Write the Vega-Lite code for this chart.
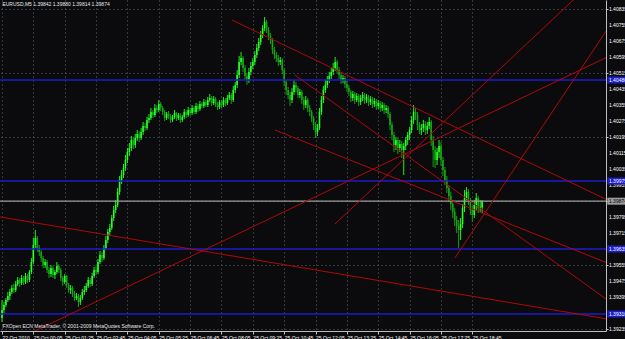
{
"$schema":"https://vega.github.io/schema/vega-lite/v6.json",
"width":606,"height":331,
"padding":{"left":0,"top":0,"right":19,"bottom":8},
"autosize":{"type":"none"},
"background":"#0b0b0d",
"config":{"view":{"stroke":null},"font":"Liberation Sans","axis":{"labelOverlap":false,"labelFontSize":5,"labelBound":false,"labelFlush":false}},
"datasets":{
"bars":[
{"i":0,"o":1.3929,"h":1.3938,"l":1.3927,"c":1.3933},
{"i":1,"o":1.3933,"h":1.3937,"l":1.39315,"c":1.39355},
{"i":2,"o":1.39355,"h":1.3939,"l":1.39345,"c":1.3938},
{"i":3,"o":1.3938,"h":1.3942,"l":1.3937,"c":1.394},
{"i":4,"o":1.394,"h":1.39435,"l":1.3938,"c":1.3942},
{"i":5,"o":1.3942,"h":1.39455,"l":1.3941,"c":1.3944},
{"i":6,"o":1.3944,"h":1.3946,"l":1.39415,"c":1.3943},
{"i":7,"o":1.3943,"h":1.39475,"l":1.3942,"c":1.3946},
{"i":8,"o":1.3946,"h":1.39495,"l":1.3945,"c":1.3948},
{"i":9,"o":1.3948,"h":1.3949,"l":1.39445,"c":1.39465},
{"i":10,"o":1.39465,"h":1.39505,"l":1.39455,"c":1.3949},
{"i":11,"o":1.3949,"h":1.395,"l":1.39455,"c":1.3947},
{"i":12,"o":1.3947,"h":1.39515,"l":1.3946,"c":1.395},
{"i":13,"o":1.395,"h":1.3951,"l":1.39465,"c":1.3948},
{"i":14,"o":1.3948,"h":1.3953,"l":1.3947,"c":1.3952},
{"i":15,"o":1.3952,"h":1.3959,"l":1.3951,"c":1.3957},
{"i":16,"o":1.3957,"h":1.3969,"l":1.3956,"c":1.39655},
{"i":17,"o":1.39655,"h":1.3973,"l":1.3964,"c":1.3969},
{"i":18,"o":1.3969,"h":1.397,"l":1.3962,"c":1.3964},
{"i":19,"o":1.3964,"h":1.39655,"l":1.396,"c":1.3962},
{"i":20,"o":1.3962,"h":1.3963,"l":1.3957,"c":1.3959},
{"i":21,"o":1.3959,"h":1.396,"l":1.3954,"c":1.39555},
{"i":22,"o":1.39555,"h":1.39585,"l":1.3954,"c":1.3957},
{"i":23,"o":1.3957,"h":1.3958,"l":1.39515,"c":1.3953},
{"i":24,"o":1.3953,"h":1.39545,"l":1.3949,"c":1.3951},
{"i":25,"o":1.3951,"h":1.39555,"l":1.39495,"c":1.3954},
{"i":26,"o":1.3954,"h":1.3955,"l":1.3949,"c":1.39505},
{"i":27,"o":1.39505,"h":1.3953,"l":1.39485,"c":1.3952},
{"i":28,"o":1.3952,"h":1.3957,"l":1.3951,"c":1.3955},
{"i":29,"o":1.3955,"h":1.3956,"l":1.39515,"c":1.3953},
{"i":30,"o":1.3953,"h":1.3954,"l":1.39475,"c":1.3949},
{"i":31,"o":1.3949,"h":1.395,"l":1.3945,"c":1.3947},
{"i":32,"o":1.3947,"h":1.3951,"l":1.3946,"c":1.395},
{"i":33,"o":1.395,"h":1.39505,"l":1.3944,"c":1.39455},
{"i":34,"o":1.39455,"h":1.39465,"l":1.39415,"c":1.3943},
{"i":35,"o":1.3943,"h":1.39455,"l":1.3941,"c":1.3944},
{"i":36,"o":1.3944,"h":1.3945,"l":1.39395,"c":1.3941},
{"i":37,"o":1.3941,"h":1.39425,"l":1.39375,"c":1.3939},
{"i":38,"o":1.3939,"h":1.39415,"l":1.3938,"c":1.394},
{"i":39,"o":1.394,"h":1.3941,"l":1.39345,"c":1.3937},
{"i":40,"o":1.3937,"h":1.39405,"l":1.39355,"c":1.3939},
{"i":41,"o":1.3939,"h":1.39435,"l":1.3938,"c":1.3942},
{"i":42,"o":1.3942,"h":1.3945,"l":1.39405,"c":1.3943},
{"i":43,"o":1.3943,"h":1.39465,"l":1.3942,"c":1.3945},
{"i":44,"o":1.3945,"h":1.39495,"l":1.3944,"c":1.3948},
{"i":45,"o":1.3948,"h":1.3949,"l":1.39445,"c":1.3946},
{"i":46,"o":1.3946,"h":1.39515,"l":1.3945,"c":1.395},
{"i":47,"o":1.395,"h":1.39545,"l":1.3949,"c":1.3953},
{"i":48,"o":1.3953,"h":1.3955,"l":1.39505,"c":1.3952},
{"i":49,"o":1.3952,"h":1.39585,"l":1.3951,"c":1.3957},
{"i":50,"o":1.3957,"h":1.39625,"l":1.3956,"c":1.39605},
{"i":51,"o":1.39605,"h":1.3962,"l":1.3957,"c":1.3959},
{"i":52,"o":1.3959,"h":1.39655,"l":1.3958,"c":1.3964},
{"i":53,"o":1.3964,"h":1.397,"l":1.3963,"c":1.3968},
{"i":54,"o":1.3968,"h":1.39735,"l":1.39665,"c":1.3972},
{"i":55,"o":1.3972,"h":1.3976,"l":1.39705,"c":1.3974},
{"i":56,"o":1.3974,"h":1.39805,"l":1.3973,"c":1.3979},
{"i":57,"o":1.3979,"h":1.3985,"l":1.39775,"c":1.3983},
{"i":58,"o":1.3983,"h":1.3988,"l":1.39815,"c":1.39855},
{"i":59,"o":1.39855,"h":1.3994,"l":1.39845,"c":1.3992},
{"i":60,"o":1.3992,"h":1.4,"l":1.39905,"c":1.3998},
{"i":61,"o":1.3998,"h":1.4003,"l":1.3996,"c":1.40005},
{"i":62,"o":1.40005,"h":1.4006,"l":1.3999,"c":1.4004},
{"i":63,"o":1.4004,"h":1.40105,"l":1.40025,"c":1.4008},
{"i":64,"o":1.4008,"h":1.4014,"l":1.40065,"c":1.4012},
{"i":65,"o":1.4012,"h":1.40165,"l":1.401,"c":1.4014},
{"i":66,"o":1.4014,"h":1.402,"l":1.40125,"c":1.4018},
{"i":67,"o":1.4018,"h":1.40195,"l":1.40135,"c":1.40155},
{"i":68,"o":1.40155,"h":1.4021,"l":1.4014,"c":1.4019},
{"i":69,"o":1.4019,"h":1.4023,"l":1.40175,"c":1.4021},
{"i":70,"o":1.4021,"h":1.40225,"l":1.4017,"c":1.4019},
{"i":71,"o":1.4019,"h":1.4024,"l":1.4018,"c":1.4022},
{"i":72,"o":1.4022,"h":1.4027,"l":1.40205,"c":1.4025},
{"i":73,"o":1.4025,"h":1.40265,"l":1.40225,"c":1.4024},
{"i":74,"o":1.4024,"h":1.40295,"l":1.4023,"c":1.4028},
{"i":75,"o":1.4028,"h":1.4031,"l":1.40265,"c":1.4029},
{"i":76,"o":1.4029,"h":1.4034,"l":1.4028,"c":1.4032},
{"i":77,"o":1.4032,"h":1.4033,"l":1.4029,"c":1.40305},
{"i":78,"o":1.40305,"h":1.4036,"l":1.40295,"c":1.4034},
{"i":79,"o":1.4034,"h":1.40355,"l":1.40315,"c":1.4033},
{"i":80,"o":1.4033,"h":1.4038,"l":1.4032,"c":1.4036},
{"i":81,"o":1.4036,"h":1.4037,"l":1.40325,"c":1.4034},
{"i":82,"o":1.4034,"h":1.4035,"l":1.40305,"c":1.4032},
{"i":83,"o":1.4032,"h":1.4033,"l":1.40275,"c":1.4029},
{"i":84,"o":1.4029,"h":1.4032,"l":1.4028,"c":1.4031},
{"i":85,"o":1.4031,"h":1.40325,"l":1.40285,"c":1.403},
{"i":86,"o":1.403,"h":1.4031,"l":1.40265,"c":1.4028},
{"i":87,"o":1.4028,"h":1.40305,"l":1.4027,"c":1.40295},
{"i":88,"o":1.40295,"h":1.4033,"l":1.40285,"c":1.40315},
{"i":89,"o":1.40315,"h":1.4032,"l":1.40275,"c":1.4029},
{"i":90,"o":1.4029,"h":1.40315,"l":1.4028,"c":1.40305},
{"i":91,"o":1.40305,"h":1.40315,"l":1.40265,"c":1.4028},
{"i":92,"o":1.4028,"h":1.40305,"l":1.4027,"c":1.40295},
{"i":93,"o":1.40295,"h":1.40335,"l":1.40285,"c":1.4032},
{"i":94,"o":1.4032,"h":1.4033,"l":1.4029,"c":1.40305},
{"i":95,"o":1.40305,"h":1.40345,"l":1.40295,"c":1.4033},
{"i":96,"o":1.4033,"h":1.4034,"l":1.403,"c":1.40315},
{"i":97,"o":1.40315,"h":1.40355,"l":1.40305,"c":1.4034},
{"i":98,"o":1.4034,"h":1.4035,"l":1.4031,"c":1.4032},
{"i":99,"o":1.4032,"h":1.40365,"l":1.4031,"c":1.4035},
{"i":100,"o":1.4035,"h":1.4036,"l":1.4032,"c":1.40335},
{"i":101,"o":1.40335,"h":1.40375,"l":1.40325,"c":1.4036},
{"i":102,"o":1.4036,"h":1.4037,"l":1.4034,"c":1.4035},
{"i":103,"o":1.4035,"h":1.40385,"l":1.4034,"c":1.4037},
{"i":104,"o":1.4037,"h":1.4038,"l":1.40345,"c":1.40355},
{"i":105,"o":1.40355,"h":1.40395,"l":1.40345,"c":1.4038},
{"i":106,"o":1.4038,"h":1.4041,"l":1.4037,"c":1.4039},
{"i":107,"o":1.4039,"h":1.404,"l":1.4035,"c":1.40365},
{"i":108,"o":1.40365,"h":1.404,"l":1.40355,"c":1.40385},
{"i":109,"o":1.40385,"h":1.40395,"l":1.40345,"c":1.4036},
{"i":110,"o":1.4036,"h":1.4037,"l":1.4033,"c":1.40345},
{"i":111,"o":1.40345,"h":1.4038,"l":1.40335,"c":1.4037},
{"i":112,"o":1.4037,"h":1.4038,"l":1.4034,"c":1.40355},
{"i":113,"o":1.40355,"h":1.40395,"l":1.40345,"c":1.4038},
{"i":114,"o":1.4038,"h":1.4039,"l":1.4035,"c":1.40365},
{"i":115,"o":1.40365,"h":1.40405,"l":1.40355,"c":1.4039},
{"i":116,"o":1.4039,"h":1.4042,"l":1.4038,"c":1.40405},
{"i":117,"o":1.40405,"h":1.40415,"l":1.4036,"c":1.4038},
{"i":118,"o":1.4038,"h":1.4045,"l":1.4037,"c":1.4043},
{"i":119,"o":1.4043,"h":1.4047,"l":1.40415,"c":1.40455},
{"i":120,"o":1.40455,"h":1.4053,"l":1.4044,"c":1.40505},
{"i":121,"o":1.40505,"h":1.406,"l":1.4049,"c":1.4057},
{"i":122,"o":1.4057,"h":1.4062,"l":1.40555,"c":1.4059},
{"i":123,"o":1.4059,"h":1.406,"l":1.4052,"c":1.4054},
{"i":124,"o":1.4054,"h":1.40555,"l":1.4048,"c":1.405},
{"i":125,"o":1.405,"h":1.40515,"l":1.40455,"c":1.4048},
{"i":126,"o":1.4048,"h":1.4054,"l":1.40465,"c":1.4052},
{"i":127,"o":1.4052,"h":1.4057,"l":1.40505,"c":1.4055},
{"i":128,"o":1.4055,"h":1.4059,"l":1.40535,"c":1.4057},
{"i":129,"o":1.4057,"h":1.40625,"l":1.40555,"c":1.40605},
{"i":130,"o":1.40605,"h":1.4066,"l":1.4059,"c":1.4064},
{"i":131,"o":1.4064,"h":1.4069,"l":1.40625,"c":1.4067},
{"i":132,"o":1.4067,"h":1.40725,"l":1.40655,"c":1.40705},
{"i":133,"o":1.40705,"h":1.40755,"l":1.4069,"c":1.4074},
{"i":134,"o":1.4074,"h":1.40795,"l":1.40725,"c":1.4077},
{"i":135,"o":1.4077,"h":1.4078,"l":1.40715,"c":1.4073},
{"i":136,"o":1.4073,"h":1.40745,"l":1.4068,"c":1.407},
{"i":137,"o":1.407,"h":1.40715,"l":1.4066,"c":1.4068},
{"i":138,"o":1.4068,"h":1.4069,"l":1.4061,"c":1.4063},
{"i":139,"o":1.4063,"h":1.40645,"l":1.40585,"c":1.40605},
{"i":140,"o":1.40605,"h":1.4062,"l":1.4057,"c":1.4059},
{"i":141,"o":1.4059,"h":1.40605,"l":1.4055,"c":1.4057},
{"i":142,"o":1.4057,"h":1.40595,"l":1.40555,"c":1.4058},
{"i":143,"o":1.4058,"h":1.4059,"l":1.4051,"c":1.4053},
{"i":144,"o":1.4053,"h":1.4054,"l":1.4045,"c":1.4047},
{"i":145,"o":1.4047,"h":1.4048,"l":1.40405,"c":1.4043},
{"i":146,"o":1.4043,"h":1.40445,"l":1.40385,"c":1.40405},
{"i":147,"o":1.40405,"h":1.4042,"l":1.4035,"c":1.4038},
{"i":148,"o":1.4038,"h":1.4044,"l":1.40365,"c":1.4042},
{"i":149,"o":1.4042,"h":1.4048,"l":1.40405,"c":1.40455},
{"i":150,"o":1.40455,"h":1.4047,"l":1.4042,"c":1.4044},
{"i":151,"o":1.4044,"h":1.4045,"l":1.4039,"c":1.40405},
{"i":152,"o":1.40405,"h":1.40435,"l":1.4039,"c":1.4042},
{"i":153,"o":1.4042,"h":1.4043,"l":1.4036,"c":1.4038},
{"i":154,"o":1.4038,"h":1.40395,"l":1.4033,"c":1.40355},
{"i":155,"o":1.40355,"h":1.404,"l":1.4034,"c":1.4038},
{"i":156,"o":1.4038,"h":1.4039,"l":1.4032,"c":1.4034},
{"i":157,"o":1.4034,"h":1.40355,"l":1.403,"c":1.4032},
{"i":158,"o":1.4032,"h":1.4033,"l":1.4027,"c":1.4029},
{"i":159,"o":1.4029,"h":1.403,"l":1.4023,"c":1.40255},
{"i":160,"o":1.40255,"h":1.4027,"l":1.4019,"c":1.4022},
{"i":161,"o":1.4022,"h":1.4026,"l":1.402,"c":1.4024},
{"i":162,"o":1.4024,"h":1.4034,"l":1.4023,"c":1.4032},
{"i":163,"o":1.4032,"h":1.404,"l":1.40305,"c":1.4038},
{"i":164,"o":1.4038,"h":1.4045,"l":1.40365,"c":1.4043},
{"i":165,"o":1.4043,"h":1.4048,"l":1.40415,"c":1.40455},
{"i":166,"o":1.40455,"h":1.405,"l":1.4044,"c":1.4048},
{"i":167,"o":1.4048,"h":1.4052,"l":1.40465,"c":1.405},
{"i":168,"o":1.405,"h":1.4054,"l":1.40485,"c":1.4052},
{"i":169,"o":1.4052,"h":1.40565,"l":1.40505,"c":1.4054},
{"i":170,"o":1.4054,"h":1.40595,"l":1.40525,"c":1.4057},
{"i":171,"o":1.4057,"h":1.4058,"l":1.4051,"c":1.4053},
{"i":172,"o":1.4053,"h":1.40545,"l":1.40485,"c":1.40505},
{"i":173,"o":1.40505,"h":1.4052,"l":1.4046,"c":1.4048},
{"i":174,"o":1.4048,"h":1.40505,"l":1.40465,"c":1.4049},
{"i":175,"o":1.4049,"h":1.405,"l":1.4044,"c":1.4046},
{"i":176,"o":1.4046,"h":1.40475,"l":1.4042,"c":1.4044},
{"i":177,"o":1.4044,"h":1.40455,"l":1.404,"c":1.4042},
{"i":178,"o":1.4042,"h":1.4043,"l":1.4037,"c":1.4039},
{"i":179,"o":1.4039,"h":1.40425,"l":1.40375,"c":1.4041},
{"i":180,"o":1.4041,"h":1.4042,"l":1.4036,"c":1.4038},
{"i":181,"o":1.4038,"h":1.40415,"l":1.4037,"c":1.404},
{"i":182,"o":1.404,"h":1.4041,"l":1.4035,"c":1.4037},
{"i":183,"o":1.4037,"h":1.40405,"l":1.40355,"c":1.4039},
{"i":184,"o":1.4039,"h":1.4042,"l":1.40375,"c":1.40405},
{"i":185,"o":1.40405,"h":1.40415,"l":1.4036,"c":1.4038},
{"i":186,"o":1.4038,"h":1.4041,"l":1.40365,"c":1.40395},
{"i":187,"o":1.40395,"h":1.40405,"l":1.4035,"c":1.4037},
{"i":188,"o":1.4037,"h":1.404,"l":1.40355,"c":1.40385},
{"i":189,"o":1.40385,"h":1.40395,"l":1.4034,"c":1.4036},
{"i":190,"o":1.4036,"h":1.4039,"l":1.40345,"c":1.40375},
{"i":191,"o":1.40375,"h":1.40385,"l":1.4033,"c":1.4035},
{"i":192,"o":1.4035,"h":1.4038,"l":1.40335,"c":1.40365},
{"i":193,"o":1.40365,"h":1.40375,"l":1.4032,"c":1.4034},
{"i":194,"o":1.4034,"h":1.4037,"l":1.40325,"c":1.40355},
{"i":195,"o":1.40355,"h":1.40365,"l":1.4031,"c":1.4033},
{"i":196,"o":1.4033,"h":1.40355,"l":1.40315,"c":1.4034},
{"i":197,"o":1.4034,"h":1.4035,"l":1.4029,"c":1.4031},
{"i":198,"o":1.4031,"h":1.4032,"l":1.4023,"c":1.40255},
{"i":199,"o":1.40255,"h":1.4027,"l":1.4018,"c":1.40205},
{"i":200,"o":1.40205,"h":1.4022,"l":1.4012,"c":1.40155},
{"i":201,"o":1.40155,"h":1.40195,"l":1.4013,"c":1.4018},
{"i":202,"o":1.4018,"h":1.4019,"l":1.4011,"c":1.4014},
{"i":203,"o":1.4014,"h":1.4018,"l":1.4012,"c":1.4016},
{"i":204,"o":1.4016,"h":1.40175,"l":1.4009,"c":1.4013},
{"i":205,"o":1.4013,"h":1.40165,"l":1.40005,"c":1.4015},
{"i":206,"o":1.4015,"h":1.40195,"l":1.4013,"c":1.4018},
{"i":207,"o":1.4018,"h":1.4022,"l":1.40155,"c":1.40205},
{"i":208,"o":1.40205,"h":1.40245,"l":1.4018,"c":1.4023},
{"i":209,"o":1.4023,"h":1.403,"l":1.40215,"c":1.4028},
{"i":210,"o":1.4028,"h":1.40355,"l":1.4026,"c":1.4032},
{"i":211,"o":1.4032,"h":1.4034,"l":1.4028,"c":1.40305},
{"i":212,"o":1.40305,"h":1.4032,"l":1.4023,"c":1.40255},
{"i":213,"o":1.40255,"h":1.4027,"l":1.4021,"c":1.4023},
{"i":214,"o":1.4023,"h":1.4026,"l":1.40205,"c":1.4024},
{"i":215,"o":1.4024,"h":1.4028,"l":1.4022,"c":1.4026},
{"i":216,"o":1.4026,"h":1.40275,"l":1.40205,"c":1.4023},
{"i":217,"o":1.4023,"h":1.4027,"l":1.4021,"c":1.4025},
{"i":218,"o":1.4025,"h":1.40295,"l":1.40235,"c":1.4027},
{"i":219,"o":1.4027,"h":1.4028,"l":1.4015,"c":1.4018},
{"i":220,"o":1.4018,"h":1.402,"l":1.40045,"c":1.4013},
{"i":221,"o":1.4013,"h":1.4015,"l":1.4004,"c":1.4008},
{"i":222,"o":1.4008,"h":1.4014,"l":1.40055,"c":1.4012},
{"i":223,"o":1.4012,"h":1.4018,"l":1.4009,"c":1.4015},
{"i":224,"o":1.4015,"h":1.4017,"l":1.4005,"c":1.4008},
{"i":225,"o":1.4008,"h":1.40095,"l":1.4,"c":1.4003},
{"i":226,"o":1.4003,"h":1.40045,"l":1.39955,"c":1.3998},
{"i":227,"o":1.3998,"h":1.4,"l":1.39915,"c":1.3994},
{"i":228,"o":1.3994,"h":1.39955,"l":1.3987,"c":1.399},
{"i":229,"o":1.399,"h":1.3992,"l":1.3983,"c":1.3986},
{"i":230,"o":1.3986,"h":1.3988,"l":1.3979,"c":1.3982},
{"i":231,"o":1.3982,"h":1.3984,"l":1.3975,"c":1.3978},
{"i":232,"o":1.3978,"h":1.398,"l":1.39715,"c":1.3975},
{"i":233,"o":1.3975,"h":1.3978,"l":1.3964,"c":1.3973},
{"i":234,"o":1.3973,"h":1.3979,"l":1.3968,"c":1.3976},
{"i":235,"o":1.3976,"h":1.3986,"l":1.3974,"c":1.3984},
{"i":236,"o":1.3984,"h":1.3993,"l":1.3982,"c":1.3989},
{"i":237,"o":1.3989,"h":1.39945,"l":1.3988,"c":1.3992},
{"i":238,"o":1.3992,"h":1.39935,"l":1.39855,"c":1.3988},
{"i":239,"o":1.3988,"h":1.3989,"l":1.39805,"c":1.3983},
{"i":240,"o":1.3983,"h":1.3985,"l":1.3977,"c":1.39805},
{"i":241,"o":1.39805,"h":1.3988,"l":1.3979,"c":1.39855},
{"i":242,"o":1.39855,"h":1.39915,"l":1.3983,"c":1.3989},
{"i":243,"o":1.3989,"h":1.399,"l":1.39815,"c":1.3984},
{"i":244,"o":1.3984,"h":1.3988,"l":1.3982,"c":1.39842},
{"i":245,"o":1.39842,"h":1.3988,"l":1.39814,"c":1.39874}
],
"trend":[
{"x1":-2,"p1":1.39797,"x2":312,"p2":1.3928},
{"x1":117.35,"p1":1.4078,"x2":315.3,"p2":1.3985},
{"x1":149.5,"p1":1.40505,"x2":315.3,"p2":1.39335},
{"x1":139.3,"p1":1.4023,"x2":315.3,"p2":1.3954},
{"x1":15.8,"p1":1.3922,"x2":315.3,"p2":1.40625},
{"x1":231.1,"p1":1.3959,"x2":315.3,"p2":1.40828},
{"x1":169.9,"p1":1.3976,"x2":305.1,"p2":1.41005}
],
"levels":[
{"p":1.4048,"kind":"level"},
{"p":1.39975,"kind":"level"},
{"p":1.39635,"kind":"level"},
{"p":1.3931,"kind":"level"},
{"p":1.39874,"kind":"bid"}
],
"yticks":[
{"p":1.39235},{"p":1.39315},{"p":1.39395},{"p":1.39475},{"p":1.39555},{"p":1.39635},{"p":1.39715},
{"p":1.39795},{"p":1.39875},{"p":1.39955},{"p":1.40035},{"p":1.40115},{"p":1.40195},{"p":1.40275},
{"p":1.40355},{"p":1.40435},{"p":1.40515},{"p":1.40595},{"p":1.40675},{"p":1.40755},{"p":1.40835}
]
},
"layer":[
{"data":{"name":"bars"},
 "mark":{"type":"rule","strokeWidth":1},
 "encoding":{
  "x":{"field":"i","type":"quantitative","scale":{"domain":[-1.02,308.2],"nice":false,"zero":false},
   "axis":{"title":null,"orient":"bottom","values":[0,16,32,48,64,80,96,112,128,144,160,176,192,208,224,240],
    "labelExpr":"['22 Oct 2010','25 Oct 00:05','25 Oct 01:25','25 Oct 02:45','25 Oct 04:05','25 Oct 05:25','25 Oct 06:45','25 Oct 08:05','25 Oct 09:25','25 Oct 10:45','25 Oct 12:05','25 Oct 13:25','25 Oct 14:45','25 Oct 16:05','25 Oct 17:25','25 Oct 18:45'][round(datum.value/16)]",
    "labelAlign":"left","labelBaseline":"top","labelPadding":1,"labelFontSize":5,"labelColor":"#ffffff","labelFlush":false,"labelOverlap":false,"labelBound":false,
    "tickSize":3,"tickColor":"#c0c0c0","domainColor":"#c0c0c0",
    "grid":true,"gridColor":"#5d6773","gridDash":[1,3],"gridWidth":1}},
  "y":{"field":"l","type":"quantitative","scale":{"domain":[1.39225,1.4088],"nice":false,"zero":false},
   "axis":{"title":null,"orient":"right","values":[1.39235,1.39315,1.39395,1.39475,1.39555,1.39635,1.39715,1.39795,1.39875,1.39955,1.40035,1.40115,1.40195,1.40275,1.40355,1.40435,1.40515,1.40595,1.40675,1.40755,1.40835],
    "labels":false,
    "tickSize":2,"tickColor":"#c0c0c0","domainColor":"#c0c0c0",
    "grid":true,"gridColor":"#5d6773","gridDash":[1,3],"gridWidth":1}},
  "y2":{"field":"h"},
  "color":{"condition":{"test":"datum.c >= datum.o","value":"#1cf01c"},"value":"#12a012"}
 }},
{"data":{"name":"bars"},
 "mark":{"type":"rule","strokeWidth":1.6},
 "encoding":{
  "x":{"field":"i","type":"quantitative"},
  "y":{"field":"o","type":"quantitative"},
  "y2":{"field":"c"},
  "color":{"condition":{"test":"datum.c >= datum.o","value":"#2aff2a"},"value":"#14a814"}
 }},
{"data":{"name":"levels"},
 "mark":{"type":"rule","strokeWidth":1.3},
 "encoding":{
  "y":{"field":"p","type":"quantitative"},
  "color":{"field":"kind","type":"nominal","scale":{"domain":["level","bid"],"range":["#1c1cc8","#9c9c9c"]},"legend":null}
 }},
{"data":{"name":"trend"},
 "mark":{"type":"rule","strokeWidth":1,"color":"#b00808","clip":true},
 "encoding":{
  "x":{"field":"x1","type":"quantitative"},
  "x2":{"field":"x2"},
  "y":{"field":"p1","type":"quantitative"},
  "y2":{"field":"p2"}
 }},
{"data":{"name":"yticks"},
 "mark":{"type":"text","align":"left","baseline":"middle","fontSize":5,"color":"#ffffff"},
 "encoding":{
  "x":{"datum":309.7},
  "y":{"field":"p","type":"quantitative"},
  "text":{"field":"p","type":"quantitative","format":".5f"}
 }},
{"data":{"name":"levels"},
 "mark":{"type":"tick","orient":"horizontal","size":20,"thickness":7,"opacity":1},
 "encoding":{
  "x":{"datum":314},
  "y":{"field":"p","type":"quantitative"},
  "color":{"field":"kind","type":"nominal","scale":{"domain":["level","bid"],"range":["#0000f0","#f0f0f0"]},"legend":null}
 }},
{"data":{"name":"levels"},
 "mark":{"type":"text","align":"left","baseline":"middle","fontSize":5},
 "encoding":{
  "x":{"datum":309.7},
  "y":{"field":"p","type":"quantitative"},
  "text":{"field":"p","type":"quantitative","format":".5f"},
  "color":{"condition":{"test":"datum.kind=='bid'","value":"#000000"},"value":"#ffffff"}
 }},
{"data":{"values":[{"t":"EURUSD,M5  1.39842 1.39880 1.39814 1.39874","px":0.2,"py":1.4086},{"t":"FXOpen ECN MetaTrader, © 2001-2009 MetaQuotes Software Corp.","px":0.2,"py":1.39252}]},
 "mark":{"type":"text","align":"left","baseline":"middle","fontSize":5,"color":"#e8e8e8"},
 "encoding":{
  "x":{"field":"px","type":"quantitative"},
  "y":{"field":"py","type":"quantitative"},
  "text":{"field":"t"}
 }}
]
}
